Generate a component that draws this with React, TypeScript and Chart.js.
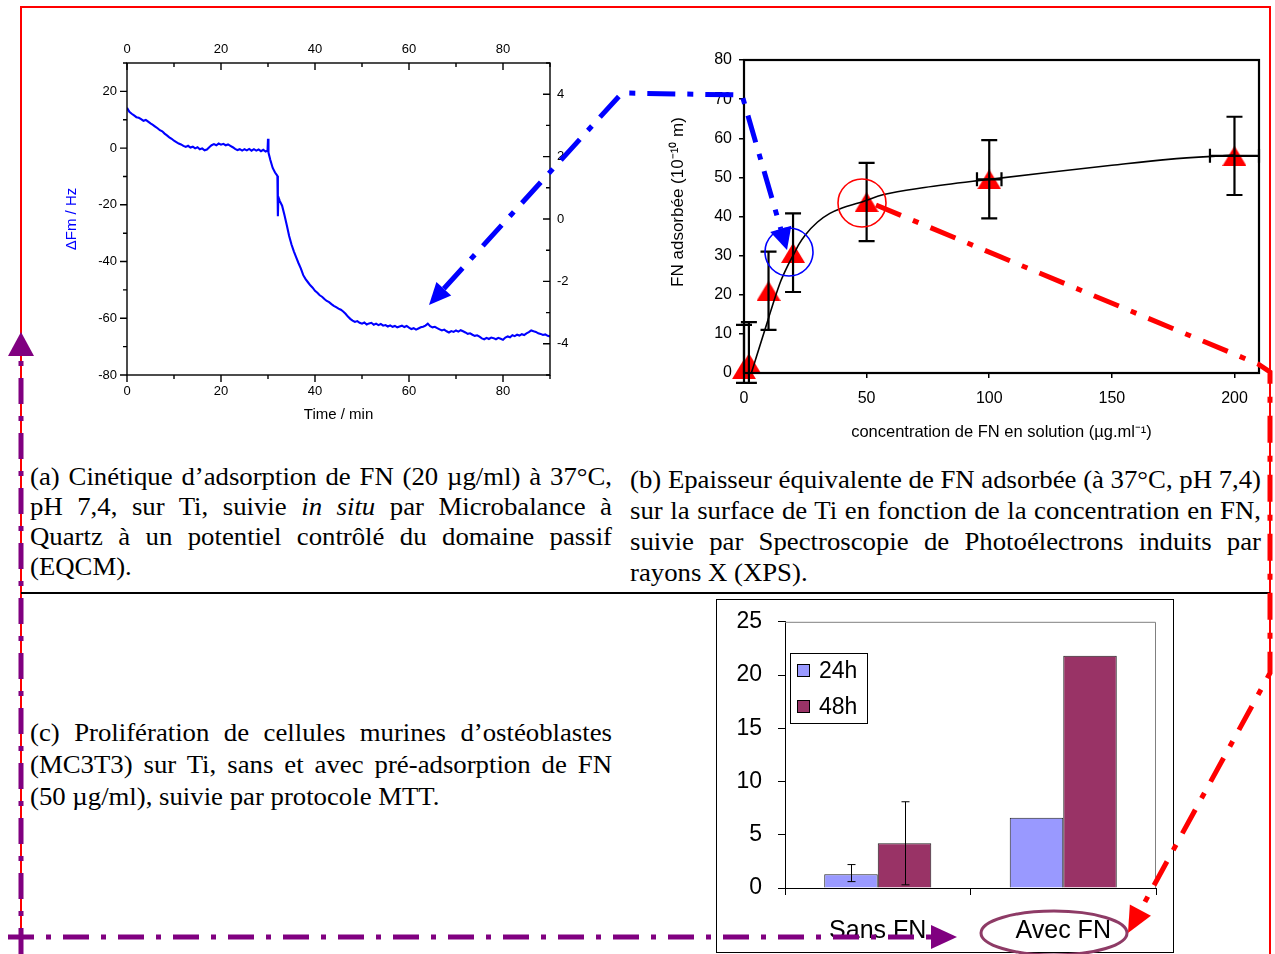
import React, { useEffect, useRef } from 'react';
import { Chart, registerables } from 'chart.js';

Chart.register(...registerables);

const SANS = '"Liberation Sans", Arial, Helvetica, sans-serif';
const SERIF = '"Liberation Serif", "Times New Roman", Times, serif';

// ---------------- (a) EQCM kinetics ----------------
const kineticTimes = [
  0, 0.5, 1, 1.5, 2, 2.5, 3, 3.5, 4, 4.5, 5, 5.5, 6, 6.5, 7, 7.5, 8, 8.5, 9, 9.5,
  10, 10.5, 11, 11.5, 12, 12.5, 13, 13.5, 14, 14.5, 15, 15.5, 16, 16.5, 17, 17.5, 18, 18.5, 19, 19.5,
  20, 20.5, 21, 21.5, 22, 22.5, 23, 23.5, 24, 24.5, 25, 25.5, 26, 26.5, 27, 27.5, 28, 28.5, 29, 29.5,
  29.9, 30, 30.1, 30.5, 31, 31.5, 32, 32.1, 32.2, 32.5, 33, 33.5, 34, 34.5, 35, 35.5, 36, 36.5, 37, 37.5,
  38, 38.5, 39, 39.5, 40, 40.5, 41, 41.5, 42, 42.5, 43, 43.5, 44, 44.5, 45, 45.5, 46, 46.5, 47, 47.5,
  48, 48.5, 49, 49.5, 50, 50.5, 51, 51.5, 52, 52.5, 53, 53.5, 54, 54.5, 55, 55.5, 56, 56.5, 57, 57.5,
  58, 58.5, 59, 59.5, 60, 60.5, 61, 61.5, 62, 62.5, 63, 63.5, 64, 64.5, 65, 65.5, 66, 66.5, 67, 67.5,
  68, 68.5, 69, 69.5, 70, 70.5, 71, 71.5, 72, 72.5, 73, 73.5, 74, 74.5, 75, 75.5, 76, 76.5, 77, 77.5,
  78, 78.5, 79, 79.5, 80, 80.5, 81, 81.5, 82, 82.5, 83, 83.5, 84, 84.5, 85, 85.5, 86, 86.5, 87, 87.5,
  88, 88.5, 89, 89.5, 90,
];
const kineticShift = [
  14.2, 12.8, 12.1, 11.5, 10.9, 10.7, 10.2, 9.6, 9.9, 9.3, 8.7, 8.2, 7.6, 7.0, 6.3, 5.9, 5.1, 4.5, 3.8, 3.3,
  2.6, 2.1, 1.6, 1.3, 0.8, 0.4, 0.8, 0.2, 0.5, -0.1, 0.3, -0.4, -0.1, -0.8, -0.5, 0.3, 1.0, 1.4, 1.0, 1.6,
  1.2, 1.5, 1.0, 1.3, 0.8, 0.3, -0.3, -0.7, -0.4, -0.9, -0.4, -0.8, -0.3, -0.9, -0.4, -0.9, -0.5, -1.1, -0.6, -1.2,
  -0.9, 3.3, -1.6, -4.2, -7.0, -8.6, -9.8, -24.0, -17.2, -18.6, -20.3, -23.6, -27.2, -31.0, -34.0, -36.4, -38.5, -40.6, -42.5, -44.8,
  -46.2, -47.3, -48.4, -49.2, -50.3, -51.0, -51.9, -52.4, -53.2, -53.9, -54.3, -55.0, -55.6, -56.1, -56.6, -57.0, -57.6, -58.4, -59.4, -60.2,
  -60.8, -61.3, -61.0, -61.6, -61.9, -61.5, -62.2, -61.8, -61.6, -62.3, -61.9, -62.4, -62.0, -62.6, -62.4, -62.9, -62.5, -63.0, -62.7, -63.2,
  -62.9, -62.6, -63.1, -62.7, -63.3, -63.8, -63.5, -64.0, -63.6, -63.2, -63.0, -62.6, -61.9, -62.8, -63.2, -63.0, -63.5, -63.9, -64.3, -64.0,
  -64.6, -65.0, -64.5, -64.8, -64.3, -64.7, -64.2, -64.6, -65.0, -65.5, -65.3, -65.8, -66.2, -66.0, -66.5, -67.1, -67.4, -66.9, -67.3, -66.8,
  -67.0, -67.4, -66.9, -67.2, -67.6, -66.8, -66.4, -66.7, -66.0, -66.3, -65.8, -66.1, -65.6, -65.9, -65.3, -64.9, -64.3, -64.6, -64.8, -65.3,
  -65.5, -65.9, -65.7, -66.2, -66.4,
];
const timeTicks = [0, 10, 20, 30, 40, 50, 60, 70, 80, 90];
const timeLabelled = [0, 20, 40, 60, 80];
const shiftTicks = [-80, -70, -60, -50, -40, -30, -20, -10, 0, 10, 20, 30];
const shiftLabelled = [-80, -60, -40, -20, 0, 20];
const rightTicks = [-5, -4, -3, -2, -1, 0, 1, 2, 3, 4, 5];
const rightLabelled = [-4, -2, 0, 2, 4];

// ---------------- (b) XPS thickness ----------------
const fnConc = [0, 2, 10, 20, 50, 100, 200];
const fnThick = [1, 2.5, 21, 30.7, 43.7, 49.5, 55.5];
const fnThickLow = [-2.5, -2.5, 11, 20.7, 33.7, 39.5, 45.5];
const fnThickHigh = [12.3, 13, 31, 40.8, 53.7, 59.5, 65.5];
const fnConcLow = [null, null, null, null, null, 95, 190];
const fnConcHigh = [null, null, null, null, null, 105, 210];
const fitConc = [3, 5, 7.5, 10, 12.5, 15, 17.5, 20, 22.5, 25, 30, 35, 40, 47, 57, 73.6, 100, 123, 150, 173, 200];
const fitThick = [0, 4, 9, 14, 19, 23.5, 27, 30, 33, 35.3, 38.6, 40.8, 42.2, 43.5, 45.6, 47.4, 49.5, 51.2, 53.1, 54.6, 55.7];
const concTicks = [0, 50, 100, 150, 200];
const thickTicks = [0, 10, 20, 30, 40, 50, 60, 70, 80];
const thickTitle = 'FN adsorb\u00E9e (10\u207B\u00B9\u2070 m)';

// ---------------- (c) MTT proliferation ----------------
const mttGroups = ['Sans FN', 'Avec FN'];
const mttSeries = ['24h', '48h'];
const mtt24h = [1.3, 6.6];
const mtt48h = [4.2, 21.8];
const mtt24hLow = [0.6, null];
const mtt24hHigh = [2.2, null];
const mtt48hLow = [0.3, null];
const mtt48hHigh = [8.1, null];
const mttTicks = [0, 5, 10, 15, 20, 25];

const setTicks = (vals: number[]) => (s: any) => {
  s.ticks = vals.map((v) => ({ value: v }));
};

// ---------- plugins ----------
const frameAPlugin = {
  id: 'frameA',
  afterDraw(chart: any) {
    const { ctx, chartArea: a, scales } = chart;
    ctx.save();
    ctx.strokeStyle = '#000';
    ctx.lineWidth = 1.4;
    ctx.strokeRect(a.left, a.top, a.right - a.left, a.bottom - a.top);
    ctx.beginPath();
    timeTicks.forEach((v) => {
      const len = timeLabelled.includes(v) ? 7 : 4;
      const xb = scales.x.getPixelForValue(v);
      ctx.moveTo(xb, a.bottom);
      ctx.lineTo(xb, a.bottom + len);
      const xt = scales.x2.getPixelForValue(v);
      ctx.moveTo(xt, a.top);
      ctx.lineTo(xt, a.top + len);
    });
    shiftTicks.forEach((v) => {
      const len = shiftLabelled.includes(v) ? 7 : 4;
      const y = scales.y.getPixelForValue(v);
      ctx.moveTo(a.left - len, y);
      ctx.lineTo(a.left, y);
    });
    rightTicks.forEach((v) => {
      const len = rightLabelled.includes(v) ? 7 : 4;
      const y = scales.y2.getPixelForValue(v);
      ctx.moveTo(a.right - len, y);
      ctx.lineTo(a.right, y);
    });
    ctx.stroke();
    ctx.restore();
  },
};

const frameBPlugin = {
  id: 'frameB',
  afterDatasetsDraw(chart: any) {
    const { ctx, scales } = chart;
    const xs = scales.x;
    const ys = scales.y;
    ctx.save();
    ctx.strokeStyle = '#000';
    ctx.lineWidth = 2.2;
    ctx.beginPath();
    fnConc.forEach((c, i) => {
      const x = xs.getPixelForValue(c);
      const y = ys.getPixelForValue(fnThick[i]);
      const yl = ys.getPixelForValue(fnThickLow[i]);
      const yh = ys.getPixelForValue(fnThickHigh[i]);
      const cap = 8;
      ctx.moveTo(x, yl);
      ctx.lineTo(x, yh);
      ctx.moveTo(x - cap, yl);
      ctx.lineTo(x + cap, yl);
      ctx.moveTo(x - cap, yh);
      ctx.lineTo(x + cap, yh);
      const lo = fnConcLow[i];
      const hi = fnConcHigh[i];
      if (lo !== null && hi !== null) {
        const xl = xs.getPixelForValue(lo);
        const xh = xs.getPixelForValue(hi);
        ctx.moveTo(xl, y);
        ctx.lineTo(xh, y);
        ctx.moveTo(xl, y - 7);
        ctx.lineTo(xl, y + 7);
        ctx.moveTo(xh, y - 7);
        ctx.lineTo(xh, y + 7);
      }
    });
    ctx.stroke();
    ctx.restore();
  },
  afterDraw(chart: any) {
    const { ctx, chartArea: a } = chart;
    ctx.save();
    ctx.strokeStyle = '#000';
    ctx.lineWidth = 2.2;
    ctx.strokeRect(a.left, a.top, a.right - a.left, a.bottom - a.top);
    ctx.translate(38, 162);
    ctx.rotate(-Math.PI / 2);
    ctx.font = `17px ${SANS}`;
    ctx.fillStyle = '#000';
    ctx.textAlign = 'center';
    ctx.textBaseline = 'middle';
    ctx.fillText(thickTitle, 0, 0);
    ctx.restore();
  },
};

const frameCPlugin = {
  id: 'frameC',
  afterDatasetsDraw(chart: any) {
    const { ctx, chartArea: a, scales } = chart;
    ctx.save();
    ctx.strokeStyle = '#808080';
    ctx.lineWidth = 1;
    ctx.beginPath();
    ctx.moveTo(a.left, a.top + 0.5);
    ctx.lineTo(a.right - 0.5, a.top + 0.5);
    ctx.lineTo(a.right - 0.5, a.bottom);
    ctx.stroke();
    const lows = [mtt24hLow, mtt48hLow];
    const highs = [mtt24hHigh, mtt48hHigh];
    ctx.strokeStyle = '#000';
    ctx.lineWidth = 1;
    ctx.beginPath();
    [0, 1].forEach((d) => {
      const meta = chart.getDatasetMeta(d);
      meta.data.forEach((bar: any, j: number) => {
        const lo = lows[d][j];
        const hi = highs[d][j];
        if (lo === null || hi === null) return;
        const x = Math.round(bar.x) + 0.5;
        const yl = scales.y.getPixelForValue(lo);
        const yh = scales.y.getPixelForValue(hi);
        ctx.moveTo(x, yl);
        ctx.lineTo(x, yh);
        ctx.moveTo(x - 4, yl);
        ctx.lineTo(x + 4, yl);
        ctx.moveTo(x - 4, yh);
        ctx.lineTo(x + 4, yh);
      });
    });
    ctx.stroke();
    const bx = Math.round(a.left) + 5;
    const by = Math.round(a.top) + 31;
    ctx.fillStyle = '#fff';
    ctx.fillRect(bx, by, 77, 70);
    ctx.strokeStyle = '#000';
    ctx.strokeRect(bx + 0.5, by + 0.5, 77, 70);
    ctx.font = `23px ${SANS}`;
    ctx.textBaseline = 'middle';
    chart.data.datasets.forEach((ds: any, i: number) => {
      const cy = by + 18 + i * 36;
      ctx.fillStyle = ds.backgroundColor;
      ctx.fillRect(bx + 7.5, cy - 6.5, 12, 12);
      ctx.strokeRect(bx + 7.5, cy - 6.5, 12, 12);
      ctx.fillStyle = '#000';
      ctx.fillText(ds.label, bx + 29, cy + 1);
    });
    ctx.restore();
  },
};

function makeTriangle(): HTMLCanvasElement {
  const c = document.createElement('canvas');
  c.width = 24;
  c.height = 20;
  const g = c.getContext('2d')!;
  g.fillStyle = '#ff0000';
  g.beginPath();
  g.moveTo(12, 0);
  g.lineTo(24, 20);
  g.lineTo(0, 20);
  g.closePath();
  g.fill();
  return c;
}

function makeChartA(canvas: HTMLCanvasElement) {
  const tickFont = { family: SANS, size: 13 };
  return new Chart(canvas, {
    type: 'line',
    data: {
      datasets: [
        {
          data: kineticTimes.map((t, i) => ({ x: t, y: kineticShift[i] })),
          borderColor: '#0000ff',
          borderWidth: 2.1,
          pointRadius: 0,
          tension: 0,
          xAxisID: 'x',
          yAxisID: 'y',
        },
        { data: [], xAxisID: 'x2', yAxisID: 'y2', pointRadius: 0 },
      ],
    },
    options: {
      animation: false,
      responsive: false,
      events: [],
      layout: { padding: 0 },
      plugins: { legend: { display: false }, tooltip: { enabled: false } },
      scales: {
        x: {
          type: 'linear',
          position: 'bottom',
          min: 0,
          max: 90,
          afterBuildTicks: setTicks(timeTicks),
          ticks: {
            callback: (v: any) => (timeLabelled.includes(v) ? String(v) : ''),
            font: tickFont,
            color: '#000',
            padding: 9,
            maxRotation: 0,
            autoSkip: false,
          },
          grid: { display: false, drawTicks: false },
          border: { display: false },
          title: { display: true, text: 'Time / min', font: { family: SANS, size: 15 }, color: '#000', padding: { top: 0, bottom: 6 } },
          afterFit: (s: any) => {
            s.height = 55;
          },
        },
        x2: {
          type: 'linear',
          position: 'top',
          min: 0,
          max: 90,
          afterBuildTicks: setTicks(timeTicks),
          ticks: {
            callback: (v: any) => (timeLabelled.includes(v) ? String(v) : ''),
            font: tickFont,
            color: '#000',
            padding: 6,
            maxRotation: 0,
            autoSkip: false,
          },
          grid: { display: false, drawTicks: false },
          border: { display: false },
          afterFit: (s: any) => {
            s.height = 33;
          },
        },
        y: {
          type: 'linear',
          position: 'left',
          min: -80,
          max: 30,
          afterBuildTicks: setTicks(shiftTicks),
          ticks: {
            callback: (v: any) => (shiftLabelled.includes(v) ? String(v) : ''),
            font: tickFont,
            color: '#000',
            padding: 10,
            autoSkip: false,
          },
          grid: { display: false, drawTicks: false },
          border: { display: false },
          title: { display: true, text: '\u0394Fm / Hz', font: { family: SANS, size: 15 }, color: '#0000ff', padding: { top: 13, bottom: 0 } },
          afterFit: (s: any) => {
            s.width = 77;
          },
        },
        y2: {
          type: 'linear',
          position: 'right',
          min: -5,
          max: 5,
          afterBuildTicks: setTicks(rightTicks),
          ticks: {
            callback: (v: any) => (rightLabelled.includes(v) ? String(v) : ''),
            font: tickFont,
            color: '#000',
            padding: 7,
            autoSkip: false,
          },
          grid: { display: false, drawTicks: false },
          border: { display: false },
          afterFit: (s: any) => {
            s.width = 60;
          },
        },
      },
    } as any,
    plugins: [frameAPlugin],
  });
}

function makeChartB(canvas: HTMLCanvasElement) {
  const tri = makeTriangle();
  const tickFont = { family: SANS, size: 16 };
  return new Chart(canvas, {
    type: 'scatter',
    data: {
      datasets: [
        {
          type: 'line',
          data: fitConc.map((c, i) => ({ x: c, y: fitThick[i] })),
          borderColor: '#000',
          borderWidth: 1.6,
          pointRadius: 0,
          cubicInterpolationMode: 'monotone',
          order: 0,
          clip: false,
        },
        {
          type: 'scatter',
          data: fnConc.map((c, i) => ({ x: c, y: fnThick[i] })),
          pointStyle: tri,
          pointRadius: 12,
          backgroundColor: '#ff0000',
          borderColor: '#ff0000',
          order: 1,
          clip: false,
        },
      ],
    },
    options: {
      animation: false,
      responsive: false,
      events: [],
      layout: { padding: { top: 20, right: 16, left: 0, bottom: 0 } },
      plugins: { legend: { display: false }, tooltip: { enabled: false } },
      scales: {
        x: {
          type: 'linear',
          min: 0,
          max: 210,
          afterBuildTicks: setTicks(concTicks),
          ticks: { font: tickFont, color: '#000', padding: 11, maxRotation: 0, autoSkip: false },
          grid: { display: true, drawOnChartArea: false, drawTicks: true, tickLength: 5, color: '#000', lineWidth: 1.5 },
          border: { display: false },
          title: {
            display: true,
            text: 'concentration de FN en solution (\u00B5g.ml\u207B\u00B9)',
            font: { family: SANS, size: 16.5 },
            color: '#000',
            padding: { top: 0, bottom: 8 },
          },
          afterFit: (s: any) => {
            s.height = 77;
          },
        },
        y: {
          type: 'linear',
          min: 0,
          max: 80,
          afterBuildTicks: setTicks(thickTicks),
          ticks: { font: tickFont, color: '#000', padding: 7, autoSkip: false },
          grid: { display: true, drawOnChartArea: false, drawTicks: true, tickLength: 5, color: '#000', lineWidth: 1.5 },
          border: { display: false },
          afterFit: (s: any) => {
            s.width = 104;
          },
        },
      },
    } as any,
    plugins: [frameBPlugin],
  });
}

function makeChartC(canvas: HTMLCanvasElement) {
  return new Chart(canvas, {
    type: 'bar',
    data: {
      labels: mttGroups,
      datasets: [
        {
          label: mttSeries[0],
          data: mtt24h,
          backgroundColor: '#9999ff',
          borderColor: '#222',
          borderWidth: 1,
          categoryPercentage: 0.577,
          barPercentage: 1,
        },
        {
          label: mttSeries[1],
          data: mtt48h,
          backgroundColor: '#993366',
          borderColor: '#222',
          borderWidth: 1,
          categoryPercentage: 0.577,
          barPercentage: 1,
        },
      ],
    },
    options: {
      animation: false,
      responsive: false,
      events: [],
      layout: { padding: { top: 0, right: 18, left: 0, bottom: 0 } },
      plugins: { legend: { display: false }, tooltip: { enabled: false } },
      scales: {
        x: {
          ticks: { font: { family: SANS, size: 25 }, color: '#000', padding: 21, maxRotation: 0 },
          grid: { display: true, offset: true, drawOnChartArea: false, drawTicks: true, tickLength: 7, color: '#000' },
          border: { display: true, color: '#000', width: 1 },
          afterFit: (s: any) => {
            s.height = 66;
          },
        },
        y: {
          min: 0,
          max: 25,
          afterBuildTicks: setTicks(mttTicks),
          ticks: { font: { family: SANS, size: 23 }, color: '#000', padding: 16 },
          grid: { display: true, drawOnChartArea: false, drawTicks: true, tickLength: 7, color: '#000' },
          border: { display: true, color: '#000', width: 1 },
          afterFit: (s: any) => {
            s.width = 69;
          },
        },
      },
    } as any,
    plugins: [frameCPlugin],
  });
}

function arrowHead(tx: number, ty: number, fx: number, fy: number, len: number, half: number) {
  const dx = tx - fx;
  const dy = ty - fy;
  const d = Math.hypot(dx, dy);
  const ux = dx / d;
  const uy = dy / d;
  const bx = tx - ux * len;
  const by = ty - uy * len;
  return {
    points: `${tx},${ty} ${bx - uy * half},${by + ux * half} ${bx + uy * half},${by - ux * half}`,
    bx,
    by,
  };
}

const STRETCH = 1.07;

function Caption(props: { left: number; top: number; width: number; lh: number; lines: React.ReactNode[] }) {
  const { left, top, width, lh, lines } = props;
  return (
    <div
      style={{
        position: 'absolute',
        left,
        top,
        width: width / STRETCH,
        transform: `scaleX(${STRETCH})`,
        transformOrigin: '0 0',
        fontFamily: SERIF,
        fontSize: 25,
        lineHeight: `${lh}px`,
        color: '#000',
      }}
    >
      {lines.map((l, i) => {
        const last = i === lines.length - 1;
        return (
          <div
            key={i}
            style={{
              whiteSpace: 'nowrap',
              textAlign: last ? 'left' : 'justify',
              textAlignLast: last ? 'left' : 'justify',
            } as any}
          >
            {l}
          </div>
        );
      })}
    </div>
  );
}

export default function App() {
  const refA = useRef<HTMLCanvasElement>(null);
  const refB = useRef<HTMLCanvasElement>(null);
  const refC = useRef<HTMLCanvasElement>(null);

  useEffect(() => {
    const charts = [makeChartA(refA.current!), makeChartB(refB.current!), makeChartC(refC.current!)];
    return () => charts.forEach((c) => c.destroy());
  }, []);

  const blueA1 = arrowHead(429, 305, 622, 93, 22, 10);
  const blueA2 = arrowHead(787, 250, 742, 97, 22, 11);
  const redA = arrowHead(1128, 933, 1269, 673, 26, 12);
  const purpUp = arrowHead(21, 332, 21, 954, 24, 13);
  const purpRight = arrowHead(957, 937, 8, 937, 26, 12);

  return (
    <div
      style={{
        position: 'absolute',
        left: 0,
        top: 0,
        width: 1275,
        height: 954,
        background: '#fff',
        overflow: 'hidden',
      }}
    >
      <div
        style={{
          position: 'absolute',
          left: 716,
          top: 599,
          width: 456,
          height: 352,
          border: '1px solid #000',
        }}
      />
      <canvas ref={refA} width={560} height={400} style={{ position: 'absolute', left: 50, top: 30 }} />
      <canvas ref={refB} width={635} height={410} style={{ position: 'absolute', left: 640, top: 40 }} />
      <canvas ref={refC} width={458} height={362} style={{ position: 'absolute', left: 716, top: 592 }} />

      <Caption
        left={30}
        top={462}
        width={582}
        lh={30}
        lines={[
          '(a) Cinétique d\u2019adsorption de FN (20 \u00B5g/ml) à 37°C,',
          <>
            pH 7,4, sur Ti, suivie <i>in situ</i> par Microbalance à
          </>,
          'Quartz à un potentiel contrôlé du domaine passif',
          '(EQCM).',
        ]}
      />
      <Caption
        left={630}
        top={464}
        width={631}
        lh={31}
        lines={[
          '(b) Epaisseur équivalente de FN adsorbée (à 37°C, pH 7,4)',
          'sur la surface de Ti en fonction de la concentration en FN,',
          'suivie par Spectroscopie de Photoélectrons induits par',
          'rayons X (XPS).',
        ]}
      />
      <Caption
        left={30}
        top={717}
        width={582}
        lh={32}
        lines={[
          '(c) Prolifération de cellules murines d\u2019ostéoblastes',
          '(MC3T3) sur Ti, sans et avec pré-adsorption de FN',
          '(50 \u00B5g/ml), suivie par protocole MTT.',
        ]}
      />

      <svg width={1275} height={954} style={{ position: 'absolute', left: 0, top: 0, pointerEvents: 'none' }}>
        <path d="M21 954 V7 H1270 V954" fill="none" stroke="#ff0000" strokeWidth={2} />
        <line x1={21} y1={593} x2={1270} y2={593} stroke="#000" strokeWidth={2} />

        <path
          d={`M${blueA1.bx} ${blueA1.by} L622 93 L742 95 L${blueA2.bx} ${blueA2.by}`}
          fill="none"
          stroke="#0000ff"
          strokeWidth={5}
          strokeDasharray="28 12 6 12"
        />
        <polygon points={blueA1.points} fill="#0000ff" />
        <polygon points={blueA2.points} fill="#0000ff" />
        <circle cx={789} cy={252} r={24} fill="none" stroke="#0000ff" strokeWidth={1.6} />

        <circle cx={862} cy={203} r={24} fill="none" stroke="#ff0000" strokeWidth={1.6} />
        <path
          d={`M876 205 L1258 364 L1270 372 L1270 673 L${redA.bx} ${redA.by}`}
          fill="none"
          stroke="#ff0000"
          strokeWidth={5}
          strokeDasharray="27 13 6 13"
        />
        <polygon points={redA.points} fill="#ff0000" />

        <path
          d={`M21 954 L${purpUp.bx} ${purpUp.by}`}
          fill="none"
          stroke="#800080"
          strokeWidth={5}
          strokeDasharray="26 12 5 12"
        />
        <polygon points={purpUp.points} fill="#800080" />
        <path
          d={`M8 937 L${purpRight.bx} ${purpRight.by}`}
          fill="none"
          stroke="#800080"
          strokeWidth={5}
          strokeDasharray="26 12 5 12"
        />
        <polygon points={purpRight.points} fill="#800080" />
        <ellipse cx={1054} cy={933} rx={73} ry={22} fill="none" stroke="#8e3b66" strokeWidth={3} />
      </svg>
    </div>
  );
}
